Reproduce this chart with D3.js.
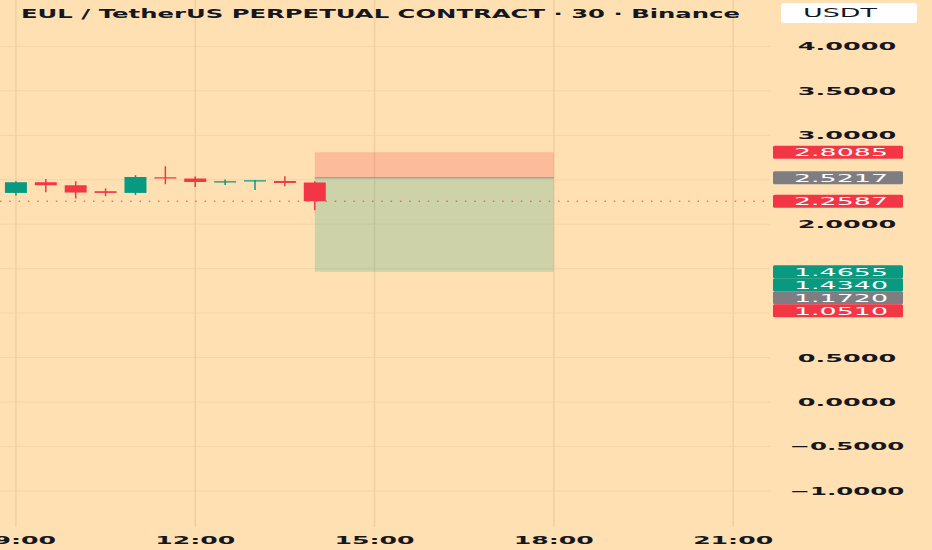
<!DOCTYPE html>
<html>
<head>
<meta charset="utf-8">
<script src="https://cdn.jsdelivr.net/npm/d3@7"></script>
<style>
  html, body { margin: 0; padding: 0; background: #FFE0B2; }
  svg { display: block; }
</style>
</head>
<body>
<div id="chart"></div>
<script>
// candles, 30 min, 09:00 -> 14:00
const times = ["09:00","09:30","10:00","10:30","11:00","11:30","12:00","12:30","13:00","13:30","14:00"];
const opens  = [2.352, 2.472, 2.438, 2.371, 2.352, 2.528, 2.514, 2.469, 2.483, 2.486, 2.469];
const highs  = [2.483, 2.509, 2.483, 2.404, 2.551, 2.652, 2.536, 2.502, 2.496, 2.539, 2.483];
const lows   = [2.322, 2.360, 2.289, 2.315, 2.329, 2.449, 2.419, 2.441, 2.385, 2.427, 2.157];
const closes = [2.472, 2.438, 2.356, 2.352, 2.531, 2.514, 2.475, 2.483, 2.494, 2.464, 2.2587];

// position tool (short): stop, entry, target
const posStart = "14:00", posEnd = "18:00";
const posStop = 2.8085, posEntry = 2.5217, posTarget = 1.4655;

// price labels on the right scale
const labelValues = [2.8085, 2.5217, 2.2587, 1.4655, 1.4340, 1.1720, 1.0510];
const labelKinds  = ["red", "grey", "red", "green", "green", "grey", "red"];

const yTicks = [-1, -0.5, 0, 0.5, 1, 1.5, 2, 2.5, 3, 3.5, 4];
const title = "EUL / TetherUS PERPETUAL CONTRACT · 30 · Binance";
const currency = "USDT";

const W = 932, H = 550;
const plotW = 770, plotH = 527;
const colors = { red: "#F23645", green: "#089981", grey: "#7E7E82" };

const day = "2024-01-01T";
const parse = t => new Date(day + t + ":00");

const svg = d3.select("#chart").append("svg")
  .attr("width", W).attr("height", H);

svg.append("rect").attr("width", W).attr("height", H).attr("fill", "#FFE0B2");

const x = d3.scaleTime()
  .domain([parse("08:44"), new Date(day + "21:37:00")])
  .range([0, plotW]);

const y = d3.scaleLinear().domain([-1, 4]).range([490.9, 46.4]);

// grid
const grid = svg.append("g");
grid.selectAll(".hg").data(yTicks).enter().append("line")
  .attr("x1", 0).attr("x2", plotW)
  .attr("y1", d => y(d)).attr("y2", d => y(d))
  .attr("stroke", "#F3D4A6").attr("stroke-width", 1);

const hourTicks = x.ticks(d3.timeHour.every(3));
grid.selectAll(".vg").data(hourTicks).enter().append("line")
  .attr("x1", d => x(d)).attr("x2", d => x(d))
  .attr("y1", 0).attr("y2", plotH)
  .attr("stroke", "#F0CFA0").attr("stroke-width", 1.5);

// position box
const px0 = x(parse(posStart)), px1 = x(parse(posEnd));
svg.append("rect")
  .attr("x", px0).attr("width", px1 - px0)
  .attr("y", y(posStop)).attr("height", y(posEntry) - y(posStop))
  .attr("fill", colors.red).attr("fill-opacity", 0.22);
svg.append("rect")
  .attr("x", px0).attr("width", px1 - px0)
  .attr("y", y(posEntry)).attr("height", y(posTarget) - y(posEntry))
  .attr("fill", colors.green).attr("fill-opacity", 0.2);
svg.append("line")
  .attr("x1", px0).attr("x2", px1)
  .attr("y1", y(posEntry)).attr("y2", y(posEntry))
  .attr("stroke", "#9EA596").attr("stroke-width", 1.5);

// last price line
const last = closes[closes.length - 1];
svg.append("line")
  .attr("x1", 0).attr("x2", plotW)
  .attr("y1", y(last)).attr("y2", y(last))
  .attr("stroke", colors.red).attr("stroke-width", 1)
  .attr("stroke-dasharray", "1.5,7.8");

// candles
const candles = times.map((t, i) => ({ t: parse(t), o: opens[i], h: highs[i], l: lows[i], c: closes[i] }));
const bodyW = 22;
const cg = svg.selectAll(".candle").data(candles).enter().append("g")
  .attr("class", "candle");
cg.append("line")
  .attr("x1", d => x(d.t)).attr("x2", d => x(d.t))
  .attr("y1", d => y(d.h)).attr("y2", d => y(d.l))
  .attr("stroke", d => d.c >= d.o ? colors.green : colors.red)
  .attr("stroke-width", 1.5);
cg.append("rect")
  .attr("x", d => x(d.t) - bodyW / 2).attr("width", bodyW)
  .attr("y", d => y(Math.max(d.o, d.c)))
  .attr("height", d => Math.max(1.2, Math.abs(y(d.o) - y(d.c))))
  .attr("fill", d => d.c >= d.o ? colors.green : colors.red);

// price labels, pushed apart like the terminal does
const lblH = 13;
const labels = labelValues.map((v, i) => ({ v, kind: labelKinds[i], yy: y(v) }));
labels.sort((a, b) => a.yy - b.yy);
for (let i = 1; i < labels.length; i++) {
  if (labels[i].yy < labels[i - 1].yy + lblH) labels[i].yy = labels[i - 1].yy + lblH;
}

// right axis ticks (hide the ones under a label)
const fmt = d3.format(".4f");
const shown = yTicks.filter(t => labels.every(l => Math.abs(l.yy - y(t)) > 12));
svg.append("g").selectAll("text").data(shown).enter().append("text")
  .attr("x", 847).attr("y", d => y(d))
  .attr("dy", "0.36em")
  .attr("text-anchor", "middle")
  .attr("font-family", "DejaVu Sans, sans-serif")
  .attr("font-weight", "bold")
  .attr("font-size", 11)
  .attr("fill", "#131722")
  .attr("textLength", d => fmt(d).length * 16.4)
  .attr("lengthAdjust", "spacingAndGlyphs")
  .text(d => fmt(d));

const lg = svg.append("g").selectAll("g").data(labels).enter().append("g");
lg.append("rect")
  .attr("x", 773).attr("width", 130)
  .attr("y", d => d.yy - lblH / 2).attr("height", lblH)
  .attr("rx", 1.5)
  .attr("fill", d => colors[d.kind]);
lg.append("text")
  .attr("x", 841).attr("y", d => d.yy)
  .attr("dy", "0.36em")
  .attr("text-anchor", "middle")
  .attr("font-family", "DejaVu Sans, sans-serif")
  .attr("font-size", 11)
  .attr("fill", "#fff")
  .attr("textLength", 94)
  .attr("lengthAdjust", "spacingAndGlyphs")
  .text(d => fmt(d.v));

// time axis labels
const tfmt = d3.timeFormat("%H:%M");
svg.append("g").selectAll("text").data(hourTicks).enter().append("text")
  .attr("x", d => x(d)).attr("y", 540)
  .attr("dy", "0.36em")
  .attr("text-anchor", "middle")
  .attr("font-family", "DejaVu Sans, sans-serif")
  .attr("font-weight", "bold")
  .attr("font-size", 11)
  .attr("fill", "#131722")
  .attr("textLength", 80)
  .attr("lengthAdjust", "spacingAndGlyphs")
  .text(d => tfmt(d));

// header
svg.append("text")
  .attr("x", 21).attr("y", 13)
  .attr("dy", "0.36em")
  .attr("font-family", "DejaVu Sans, sans-serif")
  .attr("font-weight", "bold")
  .attr("font-size", 13)
  .attr("fill", "#131722")
  .attr("textLength", 719)
  .attr("lengthAdjust", "spacingAndGlyphs")
  .text(title);

svg.append("rect")
  .attr("x", 781).attr("y", 3).attr("width", 136).attr("height", 20)
  .attr("rx", 3).attr("fill", "#fff");
svg.append("text")
  .attr("x", 803).attr("y", 13)
  .attr("dy", "0.36em")
  .attr("font-family", "DejaVu Sans, sans-serif")
  .attr("font-size", 12)
  .attr("fill", "#131722")
  .attr("textLength", 74)
  .attr("lengthAdjust", "spacingAndGlyphs")
  .text(currency);
</script>
</body>
</html>
